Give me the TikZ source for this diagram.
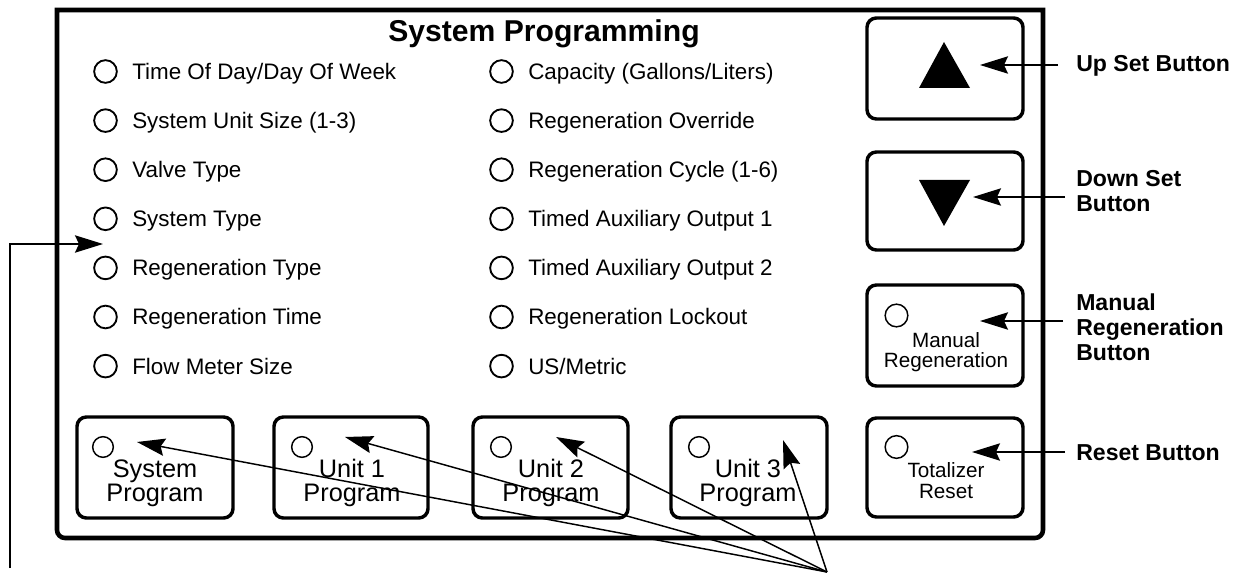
\documentclass[tikz,border=0pt]{standalone}
\usepackage{fontspec}
\setmainfont{Liberation Sans}
\usetikzlibrary{arrows.meta,fit}
\begin{document}
\begin{tikzpicture}[x=0.75pt,y=-0.75pt,
  frame/.style={line width=3.4pt,line join=miter},
  btn/.style={draw,line width=2.6pt,rounded corners=7pt,inner sep=0pt},
  led/.style={draw,circle,line width=1.4pt,inner sep=0pt,minimum size=17pt},
  ledsmall/.style={draw,circle,line width=1.1pt,inner sep=0pt,minimum size=15.5pt},
  item/.style={anchor=base west,inner sep=0pt,font=\fontsize{16.8pt}{20pt}\selectfont},
  titletext/.style={anchor=base,inner sep=0pt,font=\bfseries\fontsize{22.6pt}{26pt}\selectfont},
  bigbtntext/.style={anchor=base,inner sep=0pt,align=center,font=\fontsize{19pt}{18pt}\selectfont},
  smallbtntext/.style={anchor=base,inner sep=0pt,align=center,font=\fontsize{15.5pt}{15.75pt}\selectfont},
  sidelabel/.style={anchor=base west,inner sep=0pt,align=left,font=\bfseries\fontsize{17.3pt}{18.75pt}\selectfont},
  callout/.style={line width=1.1pt,-{Stealth[length=21pt,width=13pt,inset=3pt]}},
  arrowglyph/.style={fill=black,draw=none}
]
\useasboundingbox (0,0) rectangle (1247,574);

% outer panel
\draw[frame] (57,200) -- (57,10) -- (1043,10) -- (1043,200)
  [rounded corners=6pt] -- (1043,538) -- (57,538) -- cycle;

% title
\node[titletext] (title) at (544,41.5) {System Programming};

% left column of items
\foreach \i/\t [count=\k] in {
  71.5/Time Of Day\slash Day Of Week,
  120.6/System Unit Size (1-3),
  169.7/Valve Type,
  218.8/System Type,
  267.9/Regeneration Type,
  317/Regeneration Time,
  366.1/Flow Meter Size}{
  \node[led] (ledL\k) at (105.5,\i) {};
  \node[item] (itemL\k) at (132,\i+8) {\t};
}
% right column of items
\foreach \i/\t [count=\k] in {
  71.5/Capacity (Gallons\slash Liters),
  120.6/Regeneration Override,
  169.7/Regeneration Cycle (1-6),
  218.8/Timed Auxiliary Output 1,
  267.9/Timed Auxiliary Output 2,
  317/Regeneration Lockout,
  366.1/US\slash Metric}{
  \node[led] (ledR\k) at (501.5,\i) {};
  \node[item] (itemR\k) at (528,\i+8) {\t};
}

% right side buttons
\node[btn,fit={(867,18) (1023,119)}] (upBtn) {};
\fill[arrowglyph] (944,42) -- (970,88) -- (919,88) -- cycle;
\node[btn,fit={(867,152) (1023,250)}] (downBtn) {};
\fill[arrowglyph] (919,180) -- (970,180) -- (944,226) -- cycle;

\node[btn,fit={(867,285) (1023,386)}] (manBtn) {};
\node[ledsmall,minimum size=17pt] (manLed) at (896.5,315.5) {};
\node[smallbtntext] (manText) at (946,368) {Manual\\Regeneration};

\node[btn,fit={(867,418) (1023,517)}] (totBtn) {};
\node[ledsmall,minimum size=17pt] (totLed) at (896.5,447) {};
\node[smallbtntext] (totText) at (946,498) {Totalizer\\Reset};

% bottom buttons
\node[btn,fit={(77,417) (233,518)}] (sysBtn) {};
\node[ledsmall] (sysLed) at (103,447) {};
\node[bigbtntext] (sysText) at (155,501.5) {System\\Program};

\node[btn,fit={(274,417) (428,518)}] (u1Btn) {};
\node[ledsmall] (u1Led) at (302,447) {};
\node[bigbtntext] (u1Text) at (352,501) {Unit 1\\Program};

\node[btn,fit={(473,417) (628,518)}] (u2Btn) {};
\node[ledsmall] (u2Led) at (501,447) {};
\node[bigbtntext] (u2Text) at (551,501) {Unit 2\\Program};

\node[btn,fit={(671,417) (827,518)}] (u3Btn) {};
\node[ledsmall] (u3Led) at (699,447) {};
\node[bigbtntext] (u3Text) at (748,501) {Unit 3\\Program};

% side labels
\node[sidelabel] (upLbl) at (1076,72) {Up Set Button};
\node[sidelabel] (downLbl) at (1076,212) {Down Set\\Button};
\node[sidelabel] (manLbl) at (1076,360) {Manual\\Regeneration\\Button};
\node[sidelabel] (resetLbl) at (1076,460) {Reset Button};

% callout coordinates
\coordinate (upFrom) at (1058,65);   \coordinate (upTip) at (980,65);
\coordinate (downFrom) at (1065,197); \coordinate (downTip) at (973,197);
\coordinate (manFrom) at (1063,321);  \coordinate (manTip) at (980,321);
\coordinate (resetFrom) at (1065,452); \coordinate (resetTip) at (972,452);
\coordinate (leftFoot) at (10,568);   \coordinate (leftTip) at (103,244);
\coordinate (conv) at (827,572);
\coordinate (sysTip) at (137,442);
\coordinate (u1Tip) at (345,437);
\coordinate (u2Tip) at (556,437);
\coordinate (u3Tip) at (783,440);

\draw[callout] (upFrom) -- (upTip);
\draw[callout] (downFrom) -- (downTip);
\draw[callout] (manFrom) -- (manTip);
\draw[callout] (resetFrom) -- (resetTip);
\draw[callout] (leftFoot) |- (leftTip);
\draw[callout] (conv) -- (sysTip);
\draw[callout] (conv) -- (u1Tip);
\draw[callout] (conv) -- (u2Tip);
\draw[callout] (conv) -- (u3Tip);
\end{tikzpicture}
\end{document}
